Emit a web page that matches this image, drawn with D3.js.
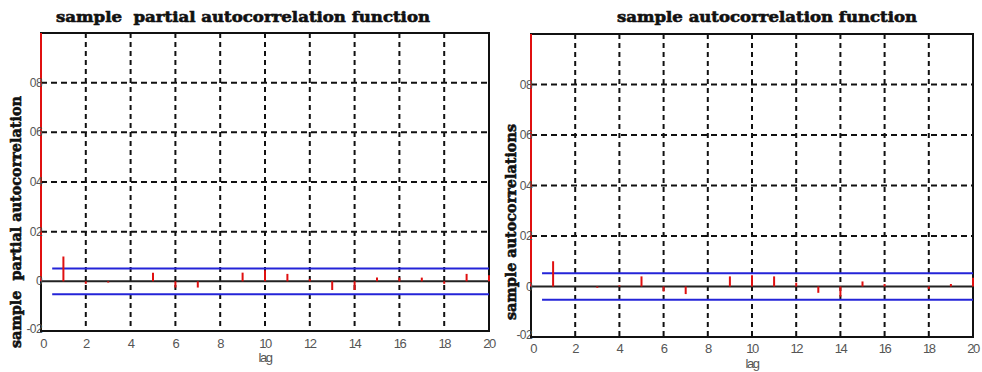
<!DOCTYPE html>
<html>
<head>
<meta charset="utf-8">
<script src="https://cdn.jsdelivr.net/npm/d3@7"></script>
<style>
  body { margin: 0; background: #fff; }
  svg { display: block; }
</style>
</head>
<body>
<svg width="982" height="372"></svg>
<script>
// lags 0..20, values
var lags = d3.range(0, 21);
var pacfValues = [1, 0.10, -0.01, -0.005, 0.0, 0.035, -0.025, -0.025, 0.0, 0.035, 0.045,
                  0.03, 0.01, -0.035, -0.035, 0.015, 0.015, 0.015, -0.01, 0.03, 0.025];
var acfValues  = [1, 0.10, 0.0, -0.005, 0.005, 0.04, -0.02, -0.03, 0.0, 0.04, 0.045,
                  0.04, 0.015, -0.025, -0.04, 0.02, 0.01, 0.0, -0.01, 0.01, 0.035];
var confBound = 0.052;           // +/- band (blue lines)
var bandStart = 0.5;
var yTicks = [-0.2, 0, 0.2, 0.4, 0.6, 0.8];
var xTicks = [0, 2, 4, 6, 8, 10, 12, 14, 16, 18, 20];
var gridY  = [0.2, 0.4, 0.6, 0.8];
var gridX  = [2, 4, 6, 8, 10, 12, 14, 16, 18];

var svg = d3.select("svg");

// the scan lost the decimal points: 0.8 -> "08", -0.2 -> "-02"
function yFmt(d) {
  return d === 0 ? "0" : d3.format(".1f")(d).replace(".", "").replace("\u2212", "-");
}

function drawPanel(p) {
  var x = d3.scaleLinear().domain([0, 20]).range([p.left, p.right]);
  var y = d3.scaleLinear().domain([-0.2, 1]).range([p.bottom, p.top]);
  var g = svg.append("g");

  // dashed grid
  g.selectAll(".gy").data(gridY).enter().append("line")
    .attr("x1", x(0)).attr("x2", x(20))
    .attr("y1", function(d) { return y(d); }).attr("y2", function(d) { return y(d); })
    .attr("stroke", "#111").attr("stroke-width", 2).attr("stroke-dasharray", "6,4");
  g.selectAll(".gx").data(gridX).enter().append("line")
    .attr("x1", function(d) { return x(d); }).attr("x2", function(d) { return x(d); })
    .attr("y1", y(1)).attr("y2", y(-0.2))
    .attr("stroke", "#111").attr("stroke-width", 2).attr("stroke-dasharray", "5,4");

  // frame
  g.append("rect")
    .attr("x", x(0)).attr("y", y(1))
    .attr("width", x(20) - x(0)).attr("height", y(-0.2) - y(1))
    .attr("fill", "none").attr("stroke", "#111").attr("stroke-width", 2);

  // zero line
  g.append("line")
    .attr("x1", x(0)).attr("x2", x(20)).attr("y1", y(0)).attr("y2", y(0))
    .attr("stroke", "#222").attr("stroke-width", 2);

  // confidence bands
  [confBound, -confBound].forEach(function(b) {
    g.append("line")
      .attr("x1", x(bandStart)).attr("x2", x(20)).attr("y1", y(b)).attr("y2", y(b))
      .attr("stroke", "#2424d8").attr("stroke-width", 2);
  });

  // stems
  g.selectAll(".stem").data(p.values).enter().append("line")
    .attr("x1", function(d, i) { return x(lags[i]); })
    .attr("x2", function(d, i) { return x(lags[i]); })
    .attr("y1", y(0))
    .attr("y2", function(d) { return y(d); })
    .attr("stroke", "#e01010").attr("stroke-width", 2);

  // tick labels (they sit right on the axis, as in the scan)
  g.selectAll(".ty").data(yTicks).enter().append("text")
    .attr("x", x(0) + 1).attr("y", function(d) { return y(d) + (d < 0 ? 2 : 4); })
    .attr("text-anchor", "end")
    .attr("font-family", "Liberation Sans, Arial, sans-serif").attr("font-size", 12)
    .attr("letter-spacing", -0.6)
    .attr("fill", "#555")
    .text(yFmt);
  g.selectAll(".tx").data(xTicks).enter().append("text")
    .attr("x", function(d) { return x(d) + (d === 0 ? 2 : 0); }).attr("y", p.xLabelY)
    .attr("text-anchor", "middle")
    .attr("font-family", "Liberation Sans, Arial, sans-serif").attr("font-size", 13)
    .attr("letter-spacing", -1.5)
    .attr("fill", "#555")
    .text(function(d) { return d; });

  g.append("text")
    .attr("x", x(10)).attr("y", p.lagY)
    .attr("text-anchor", "middle")
    .attr("font-family", "Liberation Sans, Arial, sans-serif").attr("font-size", 13)
    .attr("letter-spacing", -1.5)
    .attr("fill", "#555")
    .text("lag");

  // title
  g.append("text")
    .attr("x", p.titleX).attr("y", 22)
    .attr("text-anchor", "middle")
    .attr("font-family", "DejaVu Serif, serif").attr("font-weight", "bold").attr("font-size", 15)
    .attr("stroke", "#111").attr("stroke-width", 0.6)
    .attr("textLength", p.titleLen).attr("lengthAdjust", "spacingAndGlyphs")
    .attr("fill", "#111")
    .text(p.title);

  // y label
  g.append("text")
    .attr("transform", "translate(" + p.yLabelX + "," + p.yLabelCY + ") rotate(-90)")
    .attr("text-anchor", "middle")
    .attr("font-family", "DejaVu Serif, serif").attr("font-weight", "bold").attr("font-size", 15)
    .attr("stroke", "#111").attr("stroke-width", 0.6)
    .attr("textLength", p.yLabelLen).attr("lengthAdjust", "spacingAndGlyphs")
    .attr("fill", "#111")
    .text(p.yLabel);
}

drawPanel({
  left: 41, right: 489, top: 33, bottom: 331,
  values: pacfValues,
  xLabelY: 348, lagY: 362,
  title: "sample \u00a0partial autocorrelation function", titleX: 243, titleLen: 374,
  yLabel: "sample \u00a0partial autocorrelation", yLabelX: 21, yLabelCY: 222, yLabelLen: 252
});

drawPanel({
  left: 531, right: 973, top: 34, bottom: 337,
  values: acfValues,
  xLabelY: 353, lagY: 368,
  title: "sample autocorrelation function", titleX: 767, titleLen: 300,
  yLabel: "sample autocorrelations", yLabelX: 516, yLabelCY: 222, yLabelLen: 196
});
</script>
</body>
</html>
